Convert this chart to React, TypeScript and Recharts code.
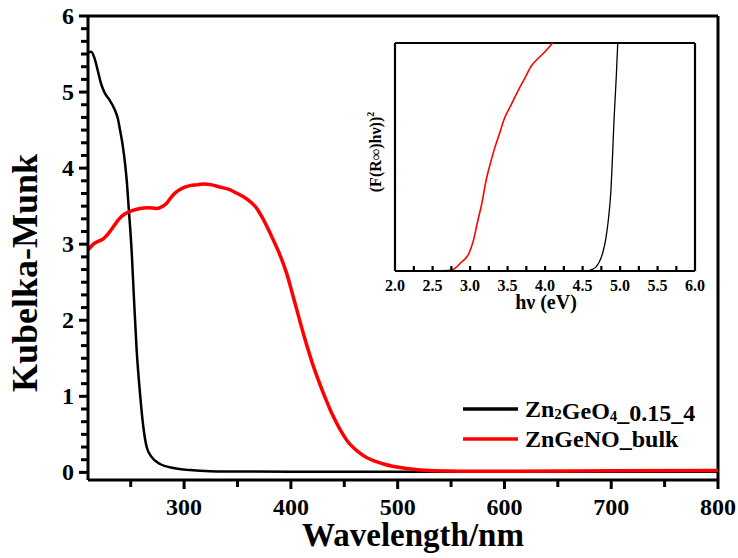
import React from 'react';
import { LineChart, Line, XAxis, YAxis, Legend, ReferenceLine } from 'recharts';

const FONT = "'Liberation Serif', 'Times New Roman', Times, serif";

// ---- main chart data (wavelength nm -> Kubelka-Munk) ----
const wlZn2GeO4 = [210, 213, 216, 219.7, 222, 226, 230, 235.3, 238, 240, 242.5, 244.7, 246.5, 247.8, 251, 253, 255.6, 258.7, 261.8, 265, 269.7, 277.5, 290, 305.6, 320, 334, 400, 500, 600, 700, 800];
const kmZn2GeO4 = [5.52, 5.53, 5.45, 5.25, 5.12, 4.98, 4.9, 4.76, 4.65, 4.5, 4.3, 4.06, 3.8, 3.54, 2.88, 2.3, 1.6, 1.04, 0.6, 0.33, 0.2, 0.11, 0.057, 0.03, 0.018, 0.012, 0.01, 0.01, 0.01, 0.01, 0.01];

const wlZnGeNO = [210, 215, 220, 224.3, 229, 233.7, 239, 244.7, 251, 258.7, 266, 274.4, 280, 283.8, 288, 293.1, 299, 305.6, 312, 318, 326, 333.7, 342, 349.4, 356, 361.8, 367, 371.2, 377, 383.7, 390, 396.2, 402.4, 411.8, 421.2, 430.5, 439.9, 452.5, 468, 486.8, 508.7, 533.6, 560, 600, 700, 800];
const kmZnGeNO = [2.92, 3.0, 3.04, 3.07, 3.14, 3.23, 3.33, 3.4, 3.44, 3.47, 3.48, 3.47, 3.5, 3.54, 3.62, 3.69, 3.74, 3.77, 3.78, 3.79, 3.78, 3.75, 3.72, 3.67, 3.62, 3.56, 3.49, 3.4, 3.25, 3.05, 2.85, 2.61, 2.3, 1.82, 1.39, 1.04, 0.73, 0.42, 0.22, 0.11, 0.05, 0.02, 0.015, 0.015, 0.02, 0.025];

const seriesNames = ['Zn2GeO4_0.15_4', 'ZnGeNO_bulk'];
const seriesColors = ['#000000', '#ff0000'];

const xTicks = [250, 300, 350, 400, 450, 500, 550, 600, 650, 700, 750, 800];
const xLabelTicks = [300, 400, 500, 600, 700, 800];
const yMajorTicks = [0, 1, 2, 3, 4, 5, 6];
const yMinorPerUnit = 6;

// ---- inset data (photon energy eV -> (F(R)hv)^2, normalised to frame top) ----
const evZnGeNO = [2.0, 2.5, 2.7, 2.79, 2.88, 2.99, 3.05, 3.1, 3.16, 3.21, 3.27, 3.33, 3.4, 3.46, 3.55, 3.64, 3.73, 3.82, 3.9, 3.98, 4.05, 4.1];
const fZnGeNO = [0, 0, 0.002, 0.01, 0.037, 0.08, 0.14, 0.215, 0.3, 0.39, 0.47, 0.54, 0.61, 0.67, 0.73, 0.79, 0.845, 0.9, 0.93, 0.955, 0.98, 1.0];
const evZn2GeO4 = [2.0, 4.54, 4.63, 4.68, 4.72, 4.77, 4.81, 4.85, 4.88, 4.9, 4.92, 4.95, 4.97];
const fZn2GeO4 = [0, 0, 0.007, 0.018, 0.037, 0.08, 0.14, 0.24, 0.36, 0.5, 0.66, 0.85, 1.0];
const insetTicks = [2, 2.25, 2.5, 2.75, 3, 3.25, 3.5, 3.75, 4, 4.25, 4.5, 4.75, 5, 5.25, 5.5, 5.75, 6];
const insetTickLabels = ['2.0', '2.5', '3.0', '3.5', '4.0', '4.5', '5.0', '5.5', '6.0'];

const mainA = wlZn2GeO4.map((x, i) => ({ x, y: kmZn2GeO4[i] }));
const mainB = wlZnGeNO.map((x, i) => ({ x, y: kmZnGeNO[i] }));
const insetA = evZn2GeO4.map((x, i) => ({ x, y: fZn2GeO4[i] }));
const insetB = evZnGeNO.map((x, i) => ({ x, y: fZnGeNO[i] }));

const yTicks: number[] = [];
for (let i = 0; i <= 6 * yMinorPerUnit; i++) yTicks.push(i / yMinorPerUnit);

// tick props x/y arrive at the axis line (tickSize 0, tickMargin 0)
const MainXTick = (props: any) => {
  const { x, y, payload } = props;
  const v = payload.value;
  const major = xLabelTicks.includes(v);
  return (
    <g>
      <rect x={x - 1.5} y={y} width={3} height={major ? 9 : 7} fill="#000" />
      {major && (
        <text x={x} y={y + 35} textAnchor="middle" fontFamily={FONT} fontWeight="bold" fontSize={24} fill="#000">
          {v}
        </text>
      )}
    </g>
  );
};

const MainYTick = (props: any) => {
  const { x, y, payload } = props;
  const v = payload.value;
  const r = Math.round(v);
  const major = Math.abs(v - r) < 1e-6 && yMajorTicks.includes(r);
  const len = major ? 9 : 7;
  return (
    <g>
      <rect x={x - len} y={y - 1.5} width={len} height={3} fill="#000" />
      {major && (
        <text x={x - 14} y={y + 8} textAnchor="end" fontFamily={FONT} fontWeight="bold" fontSize={24} fill="#000">
          {r}
        </text>
      )}
    </g>
  );
};

const InsetXTick = (props: any) => {
  const { x, y, payload } = props;
  const v = payload.value;
  const idx = Math.round((v - 2) / 0.5);
  const major = Math.abs((v - 2) / 0.5 - idx) < 1e-6;
  const edge = v <= 2 || v >= 6;
  return (
    <g>
      {!edge && <rect x={x - 1} y={y - 5} width={2.2} height={5} fill="#000" />}
      {major && (
        <text x={x} y={y + 20} textAnchor="middle" fontFamily={FONT} fontWeight="bold" fontSize={16} fill="#000">
          {insetTickLabels[idx]}
        </text>
      )}
    </g>
  );
};

const renderName = (name: string) => {
  const us = name.indexOf('_');
  const formula = us >= 0 ? name.slice(0, us) : name;
  const rest = us >= 0 ? name.slice(us) : '';
  const parts: any[] = [];
  let buf = '';
  formula.split('').forEach((ch, i) => {
    if (/[0-9]/.test(ch)) {
      if (buf) parts.push(<tspan key={'t' + i}>{buf}</tspan>);
      buf = '';
      parts.push(
        <tspan key={'s' + i} fontSize={15} dy={2}>{ch}</tspan>
      );
      parts.push(<tspan key={'r' + i} dy={-2}>{''}</tspan>);
    } else buf += ch;
  });
  if (buf) parts.push(<tspan key="end">{buf}</tspan>);
  if (rest) parts.push(<tspan key="rest">{rest}</tspan>);
  return parts;
};

const LegendContent = () => (
  <svg width={283} height={70}>
    {seriesNames.map((n, i) => (
      <g key={n}>
        <line x1={8} x2={63} y1={21 + i * 30} y2={21 + i * 30} stroke={seriesColors[i]} strokeWidth={3.5} />
        <text x={70} y={29 + i * 30} fontFamily={FONT} fontWeight="bold" fontSize={24} fill="#000">
          {renderName(n)}
        </text>
      </g>
    ))}
  </svg>
);

const axisStroke = { stroke: '#000', strokeWidth: 3 };
const insetStroke = { stroke: '#000', strokeWidth: 2.2 };

export default function App() {
  return (
    <div style={{ position: 'absolute', left: 0, top: 0, width: 738, height: 558, background: '#fff' }}>
      <div style={{ position: 'absolute', left: 0, top: 0 }}>
        <LineChart width={738} height={558} margin={{ top: 16, right: 20, bottom: 0, left: 0 }}>
          <XAxis
            dataKey="x"
            type="number"
            domain={[210, 800]}
            ticks={xTicks}
            interval={0}
            height={78}
            tickSize={0}
            tickMargin={0}
            tickLine={false}
            tick={<MainXTick />}
            axisLine={axisStroke}
            label={{
              content: () => (
                <text x={413} y={546} textAnchor="middle" fontFamily={FONT} fontWeight="bold" fontSize={33} fill="#000">
                  Wavelength/nm
                </text>
              ),
            }}
          />
          <YAxis
            type="number"
            domain={[-0.1, 6]}
            ticks={yTicks}
            interval={0}
            width={88}
            tickSize={0}
            tickMargin={0}
            tickLine={false}
            tick={<MainYTick />}
            axisLine={axisStroke}
            label={{
              content: () => (
                <text x={37} y={273} textAnchor="middle" transform="rotate(-90 37 273)" fontFamily={FONT} fontWeight="bold" fontSize={36} fill="#000">
                  Kubelka-Munk
                </text>
              ),
            }}
          />
          <ReferenceLine x={800} stroke="#000" strokeWidth={3} ifOverflow="visible" />
          <ReferenceLine y={6} stroke="#000" strokeWidth={3} ifOverflow="visible" />
          <Legend
            layout="vertical"
            align="center"
            verticalAlign="middle"
            content={<LegendContent />}
            wrapperStyle={{ position: 'absolute', left: 455, top: 388, width: 283, height: 70 }}
          />
          <Line data={mainA} dataKey="y" name={seriesNames[0]} type="monotone" stroke={seriesColors[0]} strokeWidth={2.5} dot={false} isAnimationActive={false} />
          <Line data={mainB} dataKey="y" name={seriesNames[1]} type="monotone" stroke={seriesColors[1]} strokeWidth={3.5} dot={false} isAnimationActive={false} />
        </LineChart>
      </div>

      <div style={{ position: 'absolute', left: 350, top: 30 }}>
        <LineChart width={360} height={290} margin={{ top: 13, right: 15, bottom: 0, left: 0 }}>
          <XAxis
            dataKey="x"
            type="number"
            domain={[2, 6]}
            ticks={insetTicks}
            interval={0}
            height={49}
            tickSize={0}
            tickMargin={0}
            tickLine={false}
            tick={<InsetXTick />}
            axisLine={insetStroke}
            label={{
              content: () => (
                <text x={196} y={279} textAnchor="middle" fontFamily={FONT} fontWeight="bold" fontSize={20} fill="#000">
                  hν (eV)
                </text>
              ),
            }}
          />
          <YAxis
            type="number"
            domain={[0, 1]}
            width={45}
            tick={false}
            tickLine={false}
            axisLine={insetStroke}
            label={{
              content: () => (
                <text x={31} y={122} textAnchor="middle" transform="rotate(-90 31 122)" fontFamily={FONT} fontWeight="bold" fontSize={16} fill="#000">
                  <tspan>(F(R∞)hν))</tspan>
                  <tspan dy={-7} fontSize={10}>2</tspan>
                </text>
              ),
            }}
          />
          <ReferenceLine x={6} stroke="#000" strokeWidth={2.2} ifOverflow="visible" />
          <ReferenceLine y={1} stroke="#000" strokeWidth={2.2} ifOverflow="visible" />
          <Line data={insetA} dataKey="y" type="monotone" stroke="#000" strokeWidth={1.3} dot={false} isAnimationActive={false} />
          <Line data={insetB} dataKey="y" type="monotone" stroke="#ff0000" strokeWidth={1.6} dot={false} isAnimationActive={false} />
        </LineChart>
      </div>
    </div>
  );
}
